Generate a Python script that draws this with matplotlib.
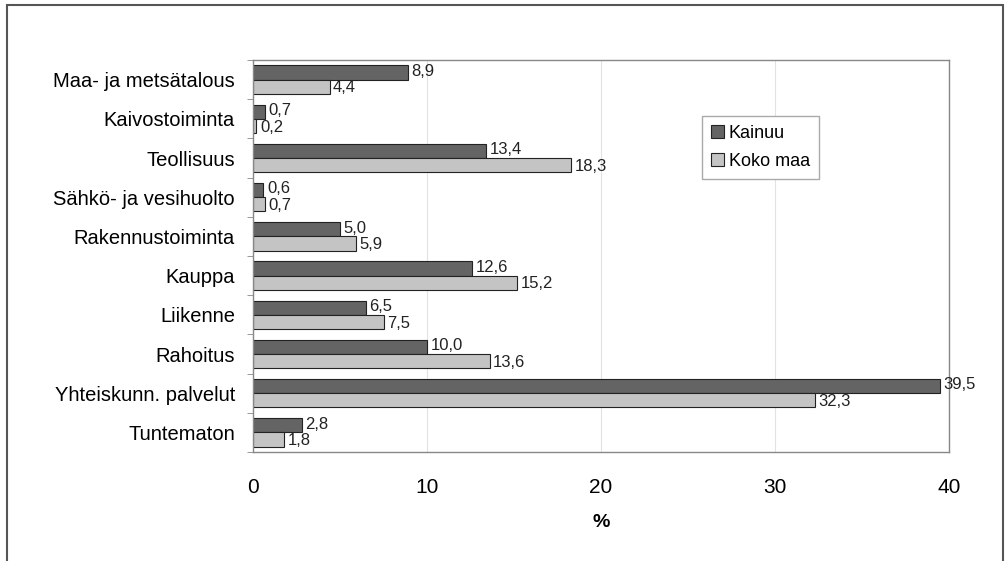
import matplotlib.pyplot as plt
import numpy as np
from matplotlib.patches import Rectangle

plt.rcParams["font.family"] = ["Liberation Sans", "DejaVu Sans"]

# Toimialat ja osuudet (%)
categories = ["Maa- ja metsätalous", "Kaivostoiminta", "Teollisuus",
              "Sähkö- ja vesihuolto", "Rakennustoiminta", "Kauppa",
              "Liikenne", "Rahoitus", "Yhteiskunn. palvelut", "Tuntematon"]
kainuu = [8.9, 0.7, 13.4, 0.6, 5.0, 12.6, 6.5, 10.0, 39.5, 2.8]
koko_maa = [4.4, 0.2, 18.3, 0.7, 5.9, 15.2, 7.5, 13.6, 32.3, 1.8]
series_names = ["Kainuu", "Koko maa"]

fig = plt.figure(figsize=(10.06, 5.61), dpi=100)
ax = fig.add_axes([253 / 1006, 1 - 452 / 561, (949 - 253) / 1006, (452 - 60) / 561])

# Outer frame around the whole chart
fig.patches.append(Rectangle((7 / 1006, -0.1), (1003 - 7) / 1006, 1.1 - 5 / 561,
                             transform=fig.transFigure, fill=False,
                             edgecolor="#555555", linewidth=1.5))

y = np.arange(len(categories))
h = 0.36
b1 = ax.barh(y - h / 2, kainuu, height=h, color="#646464", edgecolor="#222222",
             linewidth=0.8, label=series_names[0])
b2 = ax.barh(y + h / 2, koko_maa, height=h, color="#c4c4c4", edgecolor="#222222",
             linewidth=0.8, label=series_names[1])

for bars, vals, dy in [(b1, kainuu, -0.03), (b2, koko_maa, 0.03)]:
    for bar, v in zip(bars, vals):
        ax.text(v + 0.2, bar.get_y() + bar.get_height() / 2 + dy,
                f"{v:.1f}".replace(".", ","), va="center", ha="left",
                fontsize=12, color="#222222")

ax.set_xlim(0, 40)
ax.set_ylim(len(categories) - 0.5, -0.5)
ax.set_xticks([0, 10, 20, 30, 40])
ax.tick_params(axis="x", length=0, labelsize=15, pad=19)
ax.set_yticks(y)
ax.set_yticklabels(categories, fontsize=14.5)
ax.set_yticks(np.arange(len(categories) + 1) - 0.5, minor=True)
ax.tick_params(axis="y", which="major", length=0, pad=13)
ax.tick_params(axis="y", which="minor", length=4, color="#888888")
ax.set_xlabel("%", fontsize=14, fontweight="bold", labelpad=12)
ax.grid(axis="x", color="#e2e2e2", linewidth=0.8)
ax.set_axisbelow(True)
for s in ax.spines.values():
    s.set_color("#888888")
    s.set_linewidth(1)

ax.legend(loc="upper left", bbox_to_anchor=(0.632, 0.88), fontsize=13,
          fancybox=False, framealpha=1, edgecolor="#aaaaaa",
          handlelength=0.7, handleheight=0.7, handletextpad=0.3,
          borderpad=0.5, labelspacing=0.6)

fig.savefig("out.png", dpi=100)
